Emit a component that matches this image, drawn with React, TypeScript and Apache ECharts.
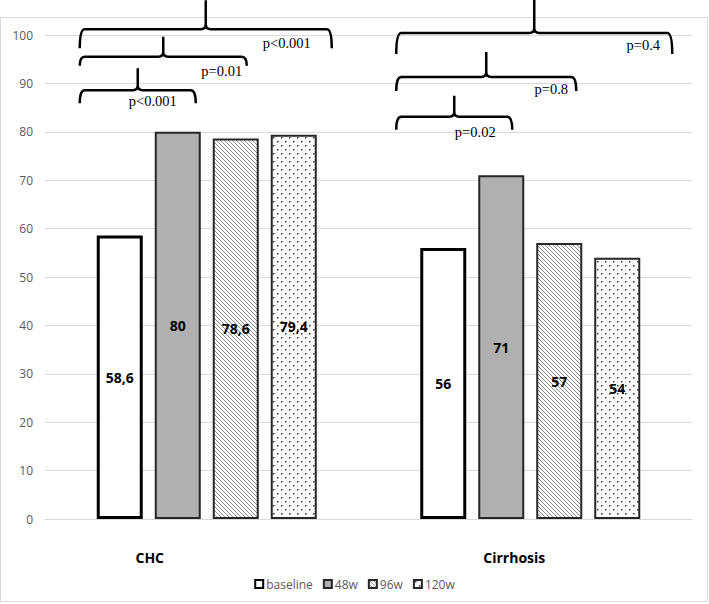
import React, { useEffect, useRef } from 'react';
import * as echarts from 'echarts';

// ---- data ----
const categories = ['CHC', 'Cirrhosis'];
const seriesNames = ['baseline', '48w', '96w', '120w'];
const baselineValues = [58.6, 56];
const w48Values = [80, 71];
const w96Values = [78.6, 57];
const w120Values = [79.4, 54];
const yMin = 0;
const yMax = 100;
const yStep = 10;

// comparisons: group index, compared bar index (vs baseline), p-value text
const comparisons = [
  { group: 0, to: 1, p: 'p<0.001' },
  { group: 0, to: 2, p: 'p=0.01' },
  { group: 0, to: 3, p: 'p<0.001' },
  { group: 1, to: 1, p: 'p=0.02' },
  { group: 1, to: 2, p: 'p=0.8' },
  { group: 1, to: 3, p: 'p=0.4' },
];

// ---- layout / style (annotation placement) ----
const BAR_W = 46;
const BAR_GAP = 12;
const bracketLevel = [88.6, 95.5, 101.2, 83.1, 91.3, 100.4];
const bracketLayout = [
  { leftAdj: -17, rightAdj: -5, drop: 13, tip: 22, labelDx: -43, labelDy: 11 },
  { leftAdj: -17, rightAdj: -12, drop: 9, tip: 20, labelDx: -25, labelDy: 14 },
  { leftAdj: -17, rightAdj: 15, drop: 19, tip: 29, labelDx: -45, labelDy: 14 },
  { leftAdj: -24, rightAdj: -12, drop: 13, tip: 21, labelDx: -37, labelDy: 15 },
  { leftAdj: -24, rightAdj: -6, drop: 14, tip: 25, labelDx: -25, labelDy: 12 },
  { leftAdj: -24, rightAdj: 32, drop: 21, tip: 33, labelDx: -29, labelDy: 12 },
];

function makeHatch(): HTMLCanvasElement {
  const c = document.createElement('canvas');
  c.width = 4;
  c.height = 4;
  const ctx = c.getContext('2d')!;
  ctx.fillStyle = '#ffffff';
  ctx.fillRect(0, 0, 4, 4);
  ctx.strokeStyle = '#8c8c8c';
  ctx.lineWidth = 1;
  ctx.beginPath();
  ctx.moveTo(-1, -1);
  ctx.lineTo(5, 5);
  ctx.moveTo(-1, 3);
  ctx.lineTo(1, 5);
  ctx.moveTo(3, -1);
  ctx.lineTo(5, 1);
  ctx.stroke();
  return c;
}

function makeDots(): HTMLCanvasElement {
  const c = document.createElement('canvas');
  c.width = 8;
  c.height = 8;
  const ctx = c.getContext('2d')!;
  ctx.fillStyle = '#ffffff';
  ctx.fillRect(0, 0, 8, 8);
  ctx.fillStyle = '#333333';
  ctx.fillRect(1, 1, 1.5, 1.5);
  ctx.fillRect(5, 5, 1.5, 1.5);
  return c;
}

export default function App() {
  const ref = useRef<HTMLDivElement>(null);

  useEffect(() => {
    if (!ref.current) return;
    const chart = echarts.init(ref.current, null, { renderer: 'svg' });

    const hatch = makeHatch();
    const dots = makeDots();
    const hatchPattern: any = { image: hatch, repeat: 'repeat', imageWidth: 4, imageHeight: 4 };
    const dotPattern: any = { image: dots, repeat: 'repeat', imageWidth: 8, imageHeight: 8 };

    const labelStyle = {
      show: true,
      position: 'inside',
      color: '#000',
      fontWeight: 'bold',
      fontSize: 14,
      fontFamily: '"Open Sans", sans-serif',
      formatter: (p: any) => String(p.value).replace('.', ','),
    };

    const barStyles = [
      { color: '#ffffff', borderColor: '#000000', borderWidth: 3 },
      { color: '#b0b0b0', borderColor: '#262626', borderWidth: 2 },
      { color: hatchPattern, borderColor: '#262626', borderWidth: 2 },
      { color: dotPattern, borderColor: '#262626', borderWidth: 2 },
    ];
    const values = [baselineValues, w48Values, w96Values, w120Values];

    const barSeries = seriesNames.map((name, i) => ({
      name,
      type: 'bar',
      data: values[i],
      barWidth: BAR_W,
      barGap: (BAR_GAP / BAR_W) * 100 + '%',
      itemStyle: barStyles[i],
      label: labelStyle,
      emphasis: { disabled: true },
    }));

    const bracketSeries = {
      type: 'custom',
      silent: true,
      clip: false,
      z: 10,
      data: comparisons.map((c, i) => [c.group, bracketLevel[i]]),
      encode: { x: 0, y: 1 },
      renderItem: (params: any, api: any) => {
        const idx = params.dataIndex;
        const cmp = comparisons[idx];
        const L = bracketLayout[idx];
        const pt = api.coord([api.value(0), api.value(1)]);
        const groupW = 4 * BAR_W + 3 * BAR_GAP;
        const barLeft = (k: number) => pt[0] - groupW / 2 + k * (BAR_W + BAR_GAP);
        const xl = barLeft(0) + L.leftAdj;
        const xr = barLeft(cmp.to) + BAR_W + L.rightAdj;
        const y = pt[1];
        const yb = y + L.drop;
        const yt = y - L.tip;
        const xm = (xl + xr) / 2;
        const r = 5;
        const d =
          `M${xl},${yb} Q${xl},${y} ${xl + r},${y} L${xm - r},${y} Q${xm},${y} ${xm},${y - r} L${xm},${yt} ` +
          `M${xm},${y - r} Q${xm},${y} ${xm + r},${y} L${xr - r},${y} Q${xr},${y} ${xr},${yb}`;
        return {
          type: 'group',
          children: [
            {
              type: 'path',
              shape: { pathData: d },
              style: { fill: 'none', stroke: '#000', lineWidth: 2.5 },
            },
            {
              type: 'text',
              style: {
                text: cmp.p,
                x: xr + L.labelDx,
                y: y + L.labelDy,
                align: 'center',
                verticalAlign: 'middle',
                textAlign: 'center',
                textVerticalAlign: 'middle',
                fill: '#000',
                font: '14.5px "Liberation Serif", "Times New Roman", serif',
              },
            },
          ],
        };
      },
    };

    chart.setOption({
      animation: false,
      backgroundColor: '#ffffff',
      graphic: [
        {
          type: 'rect',
          z: -10,
          silent: true,
          shape: { x: 0.5, y: 17.5, width: 707, height: 584 },
          style: { fill: 'none', stroke: '#d9d9d9', lineWidth: 1 },
        },
      ],
      grid: { left: 45, right: 17, top: 35, bottom: 85 },
      legend: {
        data: seriesNames,
        left: 'center',
        top: 573,
        icon: 'rect',
        itemWidth: 8,
        itemHeight: 8,
        itemGap: 10,
        textStyle: { color: '#595959', fontSize: 12, fontFamily: '"Open Sans", sans-serif', padding: [0, 0, 0, -2] },
        selectedMode: false,
      },
      xAxis: {
        type: 'category',
        data: categories,
        axisTick: { show: false },
        axisLine: { lineStyle: { color: '#d9d9d9', width: 1 } },
        axisLabel: {
          margin: 31,
          formatter: (v: string) => (v === 'CHC' ? `{chc|${v}}` : `{cir|${v}}`),
          rich: {
            chc: {
              fontWeight: 'bold',
              fontSize: 14,
              color: '#000',
              fontFamily: '"Open Sans", sans-serif',
              padding: [0, 114, 0, 0],
            },
            cir: {
              fontWeight: 'bold',
              fontSize: 14,
              color: '#000',
              fontFamily: '"Open Sans", sans-serif',
              padding: [0, 32, 0, 0],
            },
          },
        },
      },
      yAxis: {
        type: 'value',
        min: yMin,
        max: yMax,
        interval: yStep,
        axisLine: { show: false },
        axisTick: { show: false },
        axisLabel: { color: '#595959', fontSize: 12, margin: 12, fontFamily: '"Open Sans", sans-serif' },
        splitLine: { lineStyle: { color: '#d9d9d9', width: 1 } },
      },
      series: [...barSeries, bracketSeries],
    } as any);

    return () => chart.dispose();
  }, []);

  return (
    <div
      ref={ref}
      style={{ position: 'fixed', left: 0, top: 0, width: 709, height: 604, background: '#fff' }}
    />
  );
}
